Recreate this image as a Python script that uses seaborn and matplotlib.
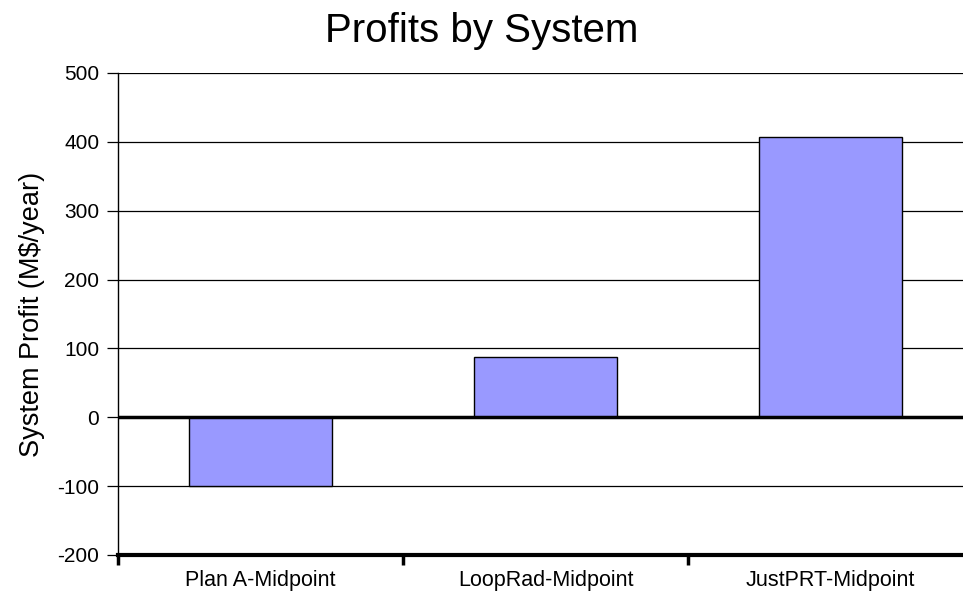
import matplotlib
matplotlib.use("Agg")
import matplotlib.pyplot as plt
import seaborn as sns
import pandas as pd

systems = ["Plan A-Midpoint", "LoopRad-Midpoint", "JustPRT-Midpoint"]
profits = [-100, 88, 407]
y_ticks = [-200, -100, 0, 100, 200, 300, 400, 500]

sns.set_theme(style="white")
plt.rcParams["font.family"] = ["Liberation Sans", "DejaVu Sans"]
plt.rcParams["text.color"] = "black"
plt.rcParams["axes.labelcolor"] = "black"
plt.rcParams["xtick.color"] = "black"
plt.rcParams["ytick.color"] = "black"

df = pd.DataFrame({"System": systems, "Profit": profits})

fig = plt.figure(figsize=(9.63, 5.96), dpi=100)
ax = fig.add_axes([118 / 963, 1 - 555 / 596, (973 - 118) / 963, (555 - 73) / 596])

sns.barplot(data=df, x="System", y="Profit", color="#9999ff", width=0.5,
            edgecolor="black", linewidth=1.0, saturation=1, ax=ax, zorder=3)

ax.set_xlim(-0.5, 2.5)
ax.set_ylim(-200, 500)
ax.set_yticks(y_ticks)
ax.set_yticklabels([str(v) for v in y_ticks], fontsize=15)
ax.yaxis.grid(True, color="black", linewidth=0.9, zorder=0)
ax.set_axisbelow(True)
ax.axhline(0, color="black", linewidth=2.5, zorder=4)

# category ticks sit on the boundaries between groups
ax.set_xticks([-0.5, 0.5, 1.5, 2.5])
ax.set_xticklabels([])
ax.set_xticks([0, 1, 2], minor=True)
ax.set_xticklabels(systems, minor=True, fontsize=15.5)
ax.tick_params(axis="x", which="major", direction="out", length=7, width=2.5,
               color="black", bottom=True)
ax.tick_params(axis="x", which="minor", length=0, pad=11)
ax.tick_params(axis="y", direction="out", length=8, width=0.9, color="black",
               left=True, pad=5.5)

for side in ["top", "right"]:
    ax.spines[side].set_visible(False)
ax.spines["left"].set_color("black")
ax.spines["left"].set_linewidth(1.0)
ax.spines["bottom"].set_color("black")
ax.spines["bottom"].set_linewidth(3.0)

ax.set_xlabel("")
ax.set_ylabel("System Profit (M$/year)", fontsize=19.5, labelpad=9)
fig.text(0.5, 1 - 31 / 596, "Profits by System", ha="center", va="center",
         fontsize=29)

fig.savefig("out.png", dpi=100)
